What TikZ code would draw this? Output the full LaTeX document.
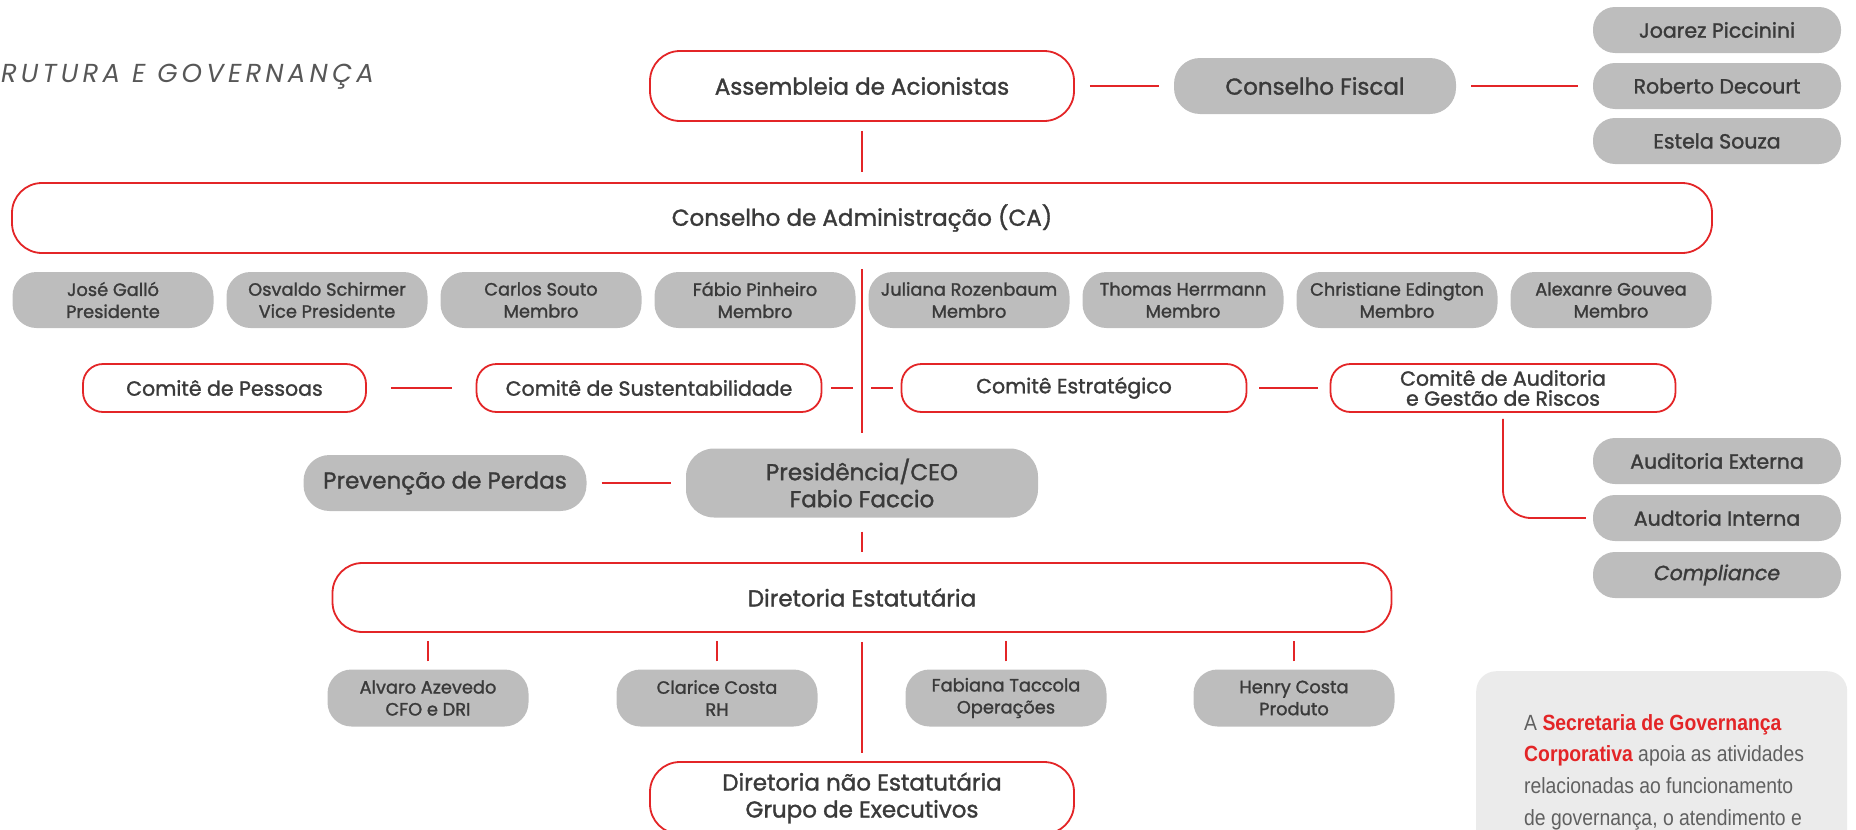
\documentclass[tikz,border=0pt]{standalone}
\usepackage{fontspec}
\setmainfont{Poppins}[FakeBold=1.4]
\newfontfamily\titlefont[LetterSpace=16]{Poppins}
\newfontfamily\notefont[FakeStretch=0.88]{Liberation Sans}
\definecolor{lred}{HTML}{E32527}
\definecolor{lgray}{HTML}{BDBDBD}
\definecolor{ltext}{HTML}{3A3A3A}
\definecolor{lnote}{HTML}{EBEBEB}
\definecolor{lnotetext}{HTML}{606060}
\tikzset{
  redbox/.style={draw=lred, line width=1.8pt, fill=white, text=ltext, align=center, inner sep=0pt, rounded corners=#1},
  redbox/.default=28pt,
  graybox/.style={fill=lgray, text=ltext, align=center, inner sep=0pt, rounded corners=#1},
  graybox/.default=22pt,
  link/.style={draw=lred, line width=1.8pt},
  bigtext/.style={font=\fontsize{23}{27}\selectfont},
  midtext/.style={font=\fontsize{20.5}{20}\selectfont},
  smalltext/.style={font=\fontsize{17.8}{22}\selectfont},
}
\begin{document}
\begin{tikzpicture}[x=1pt,y=-1pt]
\useasboundingbox (0,0) rectangle (1856,830);
\node [anchor=base east, inner sep=0pt, text=ltext!85, font={\titlefont\itshape\fontsize{26}{26}\selectfont}] (title) at (374,82) {RUTURA E GOVERNANÇA};
\node [redbox=30pt, bigtext, minimum width=424pt, minimum height=70pt] (assembleia) at (862,86) {Assembleia de Acionistas};
\node [graybox=26pt, bigtext, minimum width=282pt, minimum height=56pt] (fiscal) at (1315,86) {Conselho Fiscal};
\node [graybox, midtext, minimum width=248pt, minimum height=46pt] (joarez) at (1717,30) {Joarez Piccinini};
\node [graybox, midtext, minimum width=248pt, minimum height=46pt] (roberto) at (1717,86) {Roberto Decourt};
\node [graybox, midtext, minimum width=248pt, minimum height=46pt] (estela) at (1717,141) {Estela Souza};
\node [redbox=30pt, bigtext, minimum width=1700pt, minimum height=70pt] (ca) at (862,218) {Conselho de Administração (CA)};
\node [graybox=24pt, smalltext, minimum width=201pt, minimum height=56pt] (gallo) at (113,300) {José Galló\\Presidente};
\node [graybox=24pt, smalltext, minimum width=201pt, minimum height=56pt] (schirmer) at (327,300) {Osvaldo Schirmer\\Vice Presidente};
\node [graybox=24pt, smalltext, minimum width=201pt, minimum height=56pt] (souto) at (541,300) {Carlos Souto\\Membro};
\node [graybox=24pt, smalltext, minimum width=201pt, minimum height=56pt] (pinheiro) at (755,300) {Fábio Pinheiro\\Membro};
\node [graybox=24pt, smalltext, minimum width=201pt, minimum height=56pt] (rozenbaum) at (969,300) {Juliana Rozenbaum\\Membro};
\node [graybox=24pt, smalltext, minimum width=201pt, minimum height=56pt] (herrmann) at (1183,300) {Thomas Herrmann\\Membro};
\node [graybox=24pt, smalltext, minimum width=201pt, minimum height=56pt] (edington) at (1397,300) {Christiane Edington\\Membro};
\node [graybox=24pt, smalltext, minimum width=201pt, minimum height=56pt] (gouvea) at (1611,300) {Alexanre Gouvea\\Membro};
\node [redbox=20pt, midtext, minimum width=283pt, minimum height=48pt] (pessoas) at (224.5,388) {Comitê de Pessoas};
\node [redbox=20pt, midtext, minimum width=345pt, minimum height=48pt] (sustent) at (649,388) {Comitê de Sustentabilidade};
\node [redbox=20pt, midtext, minimum width=345pt, minimum height=48pt] (estrategico) at (1074,388) {Comitê Estratégico};
\node [redbox=20pt, midtext, minimum width=345pt, minimum height=48pt] (auditoria) at (1503,388) {Comitê de Auditoria\\e Gestão de Riscos};
\coordinate (spine) at (862,388);
\node [graybox, midtext, minimum width=248pt, minimum height=46pt] (externa) at (1717,461) {Auditoria Externa};
\node [graybox, midtext, minimum width=248pt, minimum height=46pt] (interna) at (1717,518) {Audtoria Interna};
\node [graybox, midtext, minimum width=248pt, minimum height=46pt] (compliance) at (1717,575) {\itshape Compliance};
\node [graybox=26pt, bigtext, minimum width=283pt, minimum height=56pt] (prevencao) at (445,483) {Prevenção de Perdas};
\node [graybox=28pt, bigtext, minimum width=352pt, minimum height=69pt] (presidencia) at (862,483) {Presidência/CEO\\Fabio Faccio};
\node [redbox=30pt, bigtext, minimum width=1059pt, minimum height=69pt] (diretoria) at (862,597.5) {Diretoria Estatutária};
\node [graybox=24pt, smalltext, minimum width=201pt, minimum height=57pt] (azevedo) at (428,698) {Alvaro Azevedo\\CFO e DRI};
\node [graybox=24pt, smalltext, minimum width=201pt, minimum height=57pt] (clarice) at (717,698) {Clarice Costa\\RH};
\node [graybox=24pt, smalltext, minimum width=201pt, minimum height=57pt] (taccola) at (1006,698) {Fabiana Taccola\\Operações};
\node [graybox=24pt, smalltext, minimum width=201pt, minimum height=57pt] (henry) at (1294,698) {Henry Costa\\Produto};
\node [redbox=30pt, bigtext, minimum width=424pt, minimum height=72pt] (naoestatutaria) at (862,798) {Diretoria não Estatutária\\Grupo de Executivos};
\node [fill=lnote, rounded corners=20pt, inner sep=0pt, minimum width=371pt, minimum height=200pt, anchor=north west] (secbox) at (1476,671) {};
\node [anchor=north west, align=left, inner sep=0pt, text=lnotetext, font={\notefont\fontsize{22}{31.7}\selectfont}] (sectext) at (1524,714) {A \textcolor{lred}{\bfseries Secretaria de Governança}\\\textcolor{lred}{\bfseries Corporativa} apoia as atividades\\relacionadas ao funcionamento\\de governança, o atendimento e};
\draw [link] ([xshift=15pt]assembleia.east) -- ([xshift=-15pt]fiscal.west);
\draw [link] ([xshift=15pt]fiscal.east) -- ([xshift=-15pt]roberto.west);
\draw [link] ([yshift=-9pt]assembleia.south) -- ([yshift=10pt]ca.north);
\draw [link] ([yshift=-15pt]ca.south) -- ([yshift=15pt]presidencia.north);
\draw [link] ([xshift=24pt]pessoas.east) -- ([xshift=-24pt]sustent.west);
\draw [link] ([xshift=9pt]sustent.east) -- ([xshift=-9pt]spine);
\draw [link] ([xshift=9pt]spine) -- ([xshift=-8pt]estrategico.west);
\draw [link] ([xshift=12pt]estrategico.east) -- ([xshift=-12pt]auditoria.west);
\draw [link, rounded corners=28pt] ([yshift=-6pt]auditoria.south) |- ([xshift=-7pt]interna.west);
\draw [link] ([xshift=15pt]prevencao.east) -- ([xshift=-15pt]presidencia.west);
\draw [link] ([yshift=-14pt]presidencia.south) -- ([yshift=10pt]diretoria.north);
\draw [link] ([yshift=-9pt]diretoria.south) -- ([yshift=8pt]naoestatutaria.north);
\draw [link] ([yshift=8pt]azevedo.north) -- ([yshift=-8pt]azevedo.north |- diretoria.south);
\draw [link] ([yshift=8pt]clarice.north) -- ([yshift=-8pt]clarice.north |- diretoria.south);
\draw [link] ([yshift=8pt]taccola.north) -- ([yshift=-8pt]taccola.north |- diretoria.south);
\draw [link] ([yshift=8pt]henry.north) -- ([yshift=-8pt]henry.north |- diretoria.south);
\end{tikzpicture}
\end{document}
